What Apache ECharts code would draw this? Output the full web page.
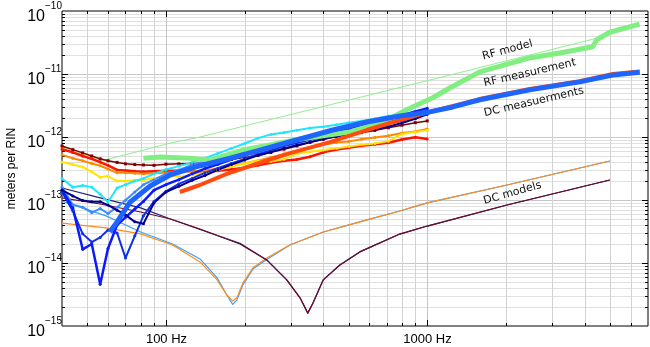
<!DOCTYPE html>
<html>
<head>
<meta charset="utf-8">
<script src="https://cdn.jsdelivr.net/npm/echarts@6/dist/echarts.min.js"></script>
<style>
  html, body { margin: 0; padding: 0; background: #fff; }
  #chart { width: 650px; height: 347px; }
</style>
</head>
<body>
<div id="chart"></div>
<script>
// axis range
const X_MIN = 40, X_MAX = 7000
const Y_MIN = 1e-15, Y_MAX = 1e-10

// tick values and labels
const xLabelValues = [100, 1000]
const xLabelTexts = ['100 Hz', '1000 Hz']
const xMinorTicks = [50, 60, 70, 80, 90, 200, 300, 400, 500, 600, 700, 800, 900, 2000, 3000, 4000, 5000, 6000]
const yMajorTicks = [1e-15, 1e-14, 1e-13, 1e-12, 1e-11, 1e-10]
const yExponents = ['\u221215', '\u221214', '\u221213', '\u221212', '\u221211', '\u221210']

// swept measurements (markers), Hz
const sweepFreqs = [40, 44, 48, 52, 56, 60, 65, 70, 76, 82, 90, 100, 112, 126, 141, 158, 178, 200, 225, 252, 283, 317, 356, 400, 450, 500, 560, 630, 710, 800, 900, 1000]
const sweepDarkRed = [7.2e-13, 6.3e-13, 5.6e-13, 5.0e-13, 4.5e-13, 4.2e-13, 3.95e-13, 3.75e-13, 3.65e-13, 3.6e-13, 3.55e-13, 3.7e-13, 3.75e-13, 3.8e-13, 3.85e-13, 4.05e-13, 4.4e-13, 4.75e-13, 5.1e-13, 5.7e-13, 6.4e-13, 7.2e-13, 8.2e-13, 9.2e-13, 1.02e-12, 1.09e-12, 1.17e-12, 1.27e-12, 1.4e-12, 1.54e-12, 1.69e-12, 1.8e-12]
const sweepRed = [6.4e-13, 5.7e-13, 5.0e-13, 4.5e-13, 4.0e-13, 3.55e-13, 3.0e-13, 2.95e-13, 2.85e-13, 2.8e-13, 2.85e-13, 2.9e-13, 2.9e-13, 2.85e-13, 2.8e-13, 2.9e-13, 3.05e-13, 3.25e-13, 3.55e-13, 3.9e-13, 4.2e-13, 4.4e-13, 4.85e-13, 5.7e-13, 6.35e-13, 6.75e-13, 7.25e-13, 7.7e-13, 8.1e-13, 9.1e-13, 9.9e-13, 9.3e-13]
const sweepOrange = [5.2e-13, 4.6e-13, 4.2e-13, 3.8e-13, 3.5e-13, 3.1e-13, 2.7e-13, 2.7e-13, 2.65e-13, 2.6e-13, 2.65e-13, 2.7e-13, 2.75e-13, 2.85e-13, 2.95e-13, 3.15e-13, 3.5e-13, 3.85e-13, 4.25e-13, 4.75e-13, 5.4e-13, 6.0e-13, 6.8e-13, 7.5e-13, 8.2e-13, 8.5e-13, 9.2e-13, 9.8e-13, 1.05e-12, 1.16e-12, 1.22e-12, 1.34e-12]
const sweepYellow = [4.0e-13, 3.65e-13, 3.35e-13, 2.8e-13, 2.3e-13, 2.4e-13, 2.0e-13, 2.0e-13, 2.05e-13, 2.1e-13, 2.2e-13, 2.4e-13, 2.35e-13, 2.5e-13, 2.7e-13, 3.0e-13, 3.4e-13, 3.75e-13, 4.25e-13, 4.1e-13, 4.45e-13, 5.4e-13, 5.85e-13, 6.2e-13, 6.6e-13, 7.05e-13, 7.5e-13, 7.9e-13, 8.6e-13, 1.12e-12, 1.2e-12, 1.28e-12]
const sweepCyan = [2.2e-13, 1.6e-13, 1.7e-13, 1.6e-13, 1.23e-13, 9.3e-14, 1.55e-13, 1.75e-13, 2.0e-13, 2.2e-13, 2.6e-13, 3.05e-13, 3.45e-13, 3.95e-13, 4.6e-13, 5.5e-13, 6.6e-13, 7.9e-13, 9.6e-13, 1.1e-12, 1.18e-12, 1.28e-12, 1.39e-12, 1.45e-12, 1.57e-12, 1.69e-12, 1.8e-12, 1.95e-12, 2.15e-12, 2.3e-12, 2.5e-12, 2.75e-12]
const sweepMidBlue = [1.6e-13, 8.4e-14, 7.7e-14, 6.3e-14, 7.3e-14, 6.1e-14, 7.7e-14, 9.9e-14, 1.34e-13, 1.75e-13, 2.1e-13, 2.6e-13, 3.0e-13, 3.6e-13, 4.15e-13, 4.6e-13, 5.3e-13, 6.0e-13, 6.7e-13, 7.6e-13, 8.5e-13, 9.3e-13, 1.03e-12, 1.15e-12, 1.24e-12, 1.33e-12, 1.43e-12, 1.55e-12, 1.7e-12, 1.9e-12, 2.15e-12, 2.4e-12]
const sweepBlueA = [1.44e-13, 7.5e-14, 1.65e-14, 2.0e-14, 4.6e-15, 1.7e-14, 4.0e-14, 5.3e-14, 7.2e-14, 9.5e-14, 1.43e-13, 1.75e-13, 2.1e-13, 2.6e-13, 3.15e-13, 3.7e-13, 4.4e-13, 5.2e-13, 6.1e-13, 7.1e-13, 8.2e-13, 9.1e-13, 1.0e-12, 1.14e-12, 1.25e-12, 1.37e-12, 1.5e-12, 1.69e-12, 1.95e-12, 2.2e-12, 2.55e-12, 2.85e-12]
const sweepBlueB = [1.34e-13, 6.7e-14, 2.9e-14, 2.15e-14, 2.55e-14, 3.35e-14, 3.0e-14, 1.2e-14, 2.7e-14, 5.6e-14, 9.5e-14, 1.37e-13, 1.8e-13, 2.2e-13, 2.7e-13, 3.2e-13, 3.8e-13, 4.5e-13, 5.4e-13, 6.1e-13, 7.2e-13, 8.0e-13, 9.0e-13, 1.0e-12, 1.1e-12, 1.2e-12, 1.31e-12, 1.44e-12, 1.62e-12, 1.8e-12, 2.1e-12, 2.65e-12]
const sweepNavy = [1.44e-13, 1.16e-13, 9.8e-14, 9.4e-14, 9.4e-14, 8.3e-14, 6.9e-14, 5.8e-14, 4.5e-14, 4.2e-14, 9.0e-14, 1.34e-13, 1.65e-13, 2.05e-13, 2.45e-13, 3.0e-13, 3.65e-13, 4.3e-13, 5.1e-13, 5.75e-13, 6.6e-13, 7.4e-13, 8.3e-13, 9.3e-13, 1.03e-12, 1.12e-12, 1.23e-12, 1.34e-12, 1.45e-12, 1.67e-12, 1.95e-12, 2.3e-12]

// dense measurements
const rfMeasFreqs = [82, 95, 123, 147, 197, 250, 326, 505, 676, 835, 1050, 1219, 1589, 2469, 3300, 4300, 4457, 5000, 6500]
const rfMeasValues = [4.6e-13, 4.8e-13, 4.6e-13, 4.3e-13, 6.2e-13, 7.5e-13, 9.3e-13, 1.2e-12, 1.73e-12, 2.7e-12, 4.2e-12, 6.0e-12, 1.08e-11, 1.8e-11, 2.2e-11, 2.7e-11, 3.5e-11, 4.6e-11, 6.2e-11]
const dcRedFreqs = [113, 135, 171, 229, 301, 424, 587, 786, 1023, 1589, 2469, 3836, 5129, 6506]
const dcRedValues = [1.34e-13, 1.73e-13, 2.6e-13, 3.9e-13, 5.6e-13, 8.3e-13, 1.29e-12, 1.86e-12, 2.5e-12, 4.0e-12, 5.8e-12, 7.7e-12, 1.0e-11, 1.1e-11]
const dcBlueFreqs = [61, 65, 73, 87, 104, 135, 176, 229, 326, 435, 587, 786, 1023, 1253, 1589, 2469, 3836, 5129, 6506]
const dcBlueValues = [3.1e-14, 4.5e-14, 9.3e-14, 1.67e-13, 2.5e-13, 3.5e-13, 4.6e-13, 6.2e-13, 9.3e-13, 1.29e-12, 1.73e-12, 2.15e-12, 2.5e-12, 3.0e-12, 3.9e-12, 5.6e-12, 7.5e-12, 9.6e-12, 1.07e-11]

// models
const rfModelFreqs = [40, 48, 57, 104, 135, 1219, 4457]
const rfModelValues = [6.9e-13, 5.4e-13, 4.2e-13, 8.0e-13, 1.0e-12, 9.6e-12, 3.7e-11]
const dcModelAFreqs = [40, 59, 80, 106, 135, 157, 171, 180, 187, 197, 215, 243, 298, 400, 552, 785, 1000, 2020, 5000]
const dcModelAOrange = [4.3e-14, 3.6e-14, 2.9e-14, 1.93e-14, 1.04e-14, 5.4e-15, 3.1e-15, 2.5e-15, 2.8e-15, 4.8e-15, 8.3e-15, 1.2e-14, 1.93e-14, 3.1e-14, 4.5e-14, 6.7e-14, 9.0e-14, 1.73e-13, 4.16e-13]
const dcModelALightBlue = [9.6e-14, 5.6e-14, 3.1e-14, 2.0e-14, 1.16e-14, 5.8e-15, 3.1e-15, 2.2e-15, 2.6e-15, 4.5e-15, 8.0e-15, 1.14e-14, 1.93e-14, 3.1e-14, 4.5e-14, 6.7e-14, 9.0e-14, 1.73e-13, 4.16e-13]
const dcModelBFreqs = [40, 56, 80, 104, 135, 192, 243, 290, 326, 349, 365, 400, 463, 552, 785, 1000, 2020, 5000]
const dcModelBMaroon = [1.08e-13, 8.65e-14, 6.45e-14, 5.0e-14, 3.47e-14, 2.0e-14, 1.12e-14, 5.4e-15, 2.8e-15, 1.6e-15, 2.3e-15, 5.4e-15, 9.3e-15, 1.5e-14, 2.88e-14, 3.86e-14, 8.33e-14, 2.08e-13]
const dcModelBNavy = [1.55e-13, 1.08e-13, 7.5e-14, 5.0e-14, 3.4e-14, 2.05e-14, 1.12e-14, 5.4e-15, 2.8e-15, 1.6e-15, 2.3e-15, 5.4e-15, 9.3e-15, 1.5e-14, 2.88e-14, 3.86e-14, 8.33e-14, 2.08e-13]

// text notes on the plot
const noteTexts = ['RF model', 'RF measurement', 'DC measuerments', 'DC models']
const noteFreqs = [2030, 2470, 2560, 2120]
const noteValues = [2.4e-11, 1.04e-11, 3.6e-12, 1.29e-13]
const noteAngles = [15, 13, 13, 16]

const pairs = (xs, ys) => xs.map((x, i) => [x, ys[i]])

const yMinorTicks = []
yMajorTicks.slice(0, -1).forEach((d) => {
  for (let k = 2; k <= 9; k++) yMinorTicks.push(k * d)
})

const LABEL_FONT = 'Liberation Sans, Arial, sans-serif'

function renderFrame(params, api) {
  const bl = api.coord([X_MIN, Y_MIN])
  const tr = api.coord([X_MAX, Y_MAX])
  const left = Math.round(bl[0])
  const bottom = Math.round(bl[1])
  const right = Math.round(tr[0])
  const top = Math.round(tr[1])
  const kids = []
  const seg = (x1, y1, x2, y2, color) => {
    kids.push({ type: 'line', silent: true, shape: { x1, y1, x2, y2 }, style: { stroke: color, lineWidth: 1 } })
  }
  const px = (f) => Math.round(api.coord([f, Y_MIN])[0]) + 0.5
  const py = (v) => Math.round(api.coord([X_MIN, v])[1]) + 0.5

  yMinorTicks.forEach((v) => {
    const y = py(v)
    seg(left, y, right, y, '#e0e0e0')
    seg(left, y, left + 3, y, '#000')
    seg(right - 3, y, right, y, '#000')
  })
  yMajorTicks.forEach((v, i) => {
    const y = py(v)
    if (i > 0 && i < yMajorTicks.length - 1) {
      seg(left, y, right, y, '#c8c8c8')
      seg(left, y, left + 6, y, '#000')
      seg(right - 6, y, right, y, '#000')
    }
    kids.push({ type: 'text', silent: true, x: left - 17, y: y + 5,
      style: { text: '10', fill: '#000', font: '16px ' + LABEL_FONT, align: 'right', verticalAlign: 'middle' } })
    kids.push({ type: 'text', silent: true, x: left - 17, y: y - 5,
      style: { text: yExponents[i], fill: '#000', font: '10px ' + LABEL_FONT, align: 'left', verticalAlign: 'middle' } })
  })
  xMinorTicks.forEach((f) => {
    const x = px(f)
    seg(x, top, x, bottom, '#d2d2d2')
    seg(x, bottom, x, bottom - 3, '#000')
    seg(x, top, x, top + 3, '#000')
  })
  xLabelValues.forEach((f, i) => {
    const x = px(f)
    seg(x, top, x, bottom, '#c4c4c4')
    seg(x, bottom, x, bottom - 6, '#000')
    seg(x, top, x, top + 6, '#000')
    kids.push({ type: 'text', silent: true, x: x, y: bottom + 7,
      style: { text: xLabelTexts[i], fill: '#000', font: '13px ' + LABEL_FONT, align: 'center', verticalAlign: 'top' } })
  })
  kids.push({ type: 'text', silent: true, x: left - 50, y: (top + bottom) / 2, rotation: Math.PI / 2,
    style: { text: 'meters per RIN', fill: '#000', font: '12px ' + LABEL_FONT, align: 'center', verticalAlign: 'middle' } })

  noteTexts.forEach((t, i) => {
    const p = api.coord([noteFreqs[i], noteValues[i]])
    kids.push({ type: 'text', silent: true, x: p[0], y: p[1], rotation: noteAngles[i] * Math.PI / 180, z2: 100,
      style: { text: t, fill: '#111', font: '11px DejaVu Sans, sans-serif', align: 'center', verticalAlign: 'middle' } })
  })
  return { type: 'group', children: kids }
}

const lineSeries = (name, data, color, width, marker, z) => ({
  name,
  type: 'line',
  data,
  z,
  showSymbol: !!marker,
  symbol: marker || 'none',
  symbolSize: 3,
  itemStyle: { color },
  lineStyle: { color, width, join: 'round' },
  silent: true
})

const chart = echarts.init(document.getElementById('chart'))
chart.setOption({
  animation: false,
  backgroundColor: '#fff',
  grid: { left: 62, right: 2, top: 11, bottom: 21, show: true, borderColor: '#000', borderWidth: 1, backgroundColor: 'transparent' },
  xAxis: {
    type: 'log', logBase: 10, min: X_MIN, max: X_MAX,
    axisLine: { show: false }, axisTick: { show: false }, axisLabel: { show: false }, splitLine: { show: false }
  },
  yAxis: {
    type: 'log', logBase: 10, min: Y_MIN, max: Y_MAX,
    axisLine: { show: false }, axisTick: { show: false }, axisLabel: { show: false }, splitLine: { show: false }
  },
  series: [
    { type: 'custom', name: 'frame', renderItem: renderFrame, data: [[100, 1e-12]], clip: false, silent: true, z: 1 },
    lineSeries('DC model light blue', pairs(dcModelAFreqs, dcModelALightBlue), '#3aa0ff', 1.2, null, 2),
    lineSeries('DC model orange', pairs(dcModelAFreqs, dcModelAOrange), '#ff8c1a', 1.2, null, 2),
    lineSeries('DC model navy', pairs(dcModelBFreqs, dcModelBNavy), '#22227a', 1.2, null, 2),
    lineSeries('DC model maroon', pairs(dcModelBFreqs, dcModelBMaroon), '#6e0c28', 1.2, null, 2),
    lineSeries('RF model', pairs(rfModelFreqs, rfModelValues), '#90ee90', 1, null, 2),
    lineSeries('sweep dark red', pairs(sweepFreqs, sweepDarkRed), '#800000', 1.5, 'rect', 3),
    lineSeries('sweep red', pairs(sweepFreqs, sweepRed), '#ff1400', 2.5, 'circle', 3),
    lineSeries('sweep orange', pairs(sweepFreqs, sweepOrange), '#ff8a00', 2, 'circle', 3),
    lineSeries('sweep yellow', pairs(sweepFreqs, sweepYellow), '#ffe400', 2, 'circle', 3),
    lineSeries('sweep cyan', pairs(sweepFreqs, sweepCyan), '#1ee6ff', 2, 'circle', 3),
    lineSeries('sweep mid blue', pairs(sweepFreqs, sweepMidBlue), '#3a8cff', 2, 'circle', 3),
    lineSeries('sweep blue B', pairs(sweepFreqs, sweepBlueB), '#1030e8', 2, 'circle', 3),
    lineSeries('sweep blue A', pairs(sweepFreqs, sweepBlueA), '#0a1aff', 2.5, 'circle', 3),
    lineSeries('sweep navy', pairs(sweepFreqs, sweepNavy), '#00008c', 2, 'circle', 3),
    lineSeries('RF measurement', pairs(rfMeasFreqs, rfMeasValues), '#80ee80', 5, null, 4),
    lineSeries('DC measurement red', pairs(dcRedFreqs, dcRedValues), '#ff4a10', 4, null, 4),
    lineSeries('DC measurement blue', pairs(dcBlueFreqs, dcBlueValues), '#1e64ff', 5, null, 4)
  ]
})
</script>
</body>
</html>
